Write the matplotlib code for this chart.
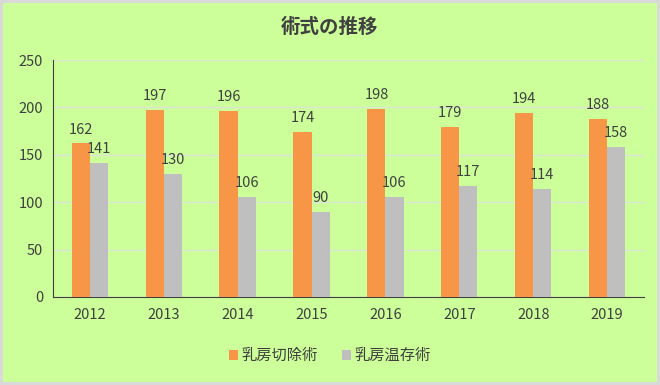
import matplotlib
matplotlib.use("Agg")
import matplotlib.pyplot as plt
import numpy as np

plt.rcParams['font.family'] = ['Noto Sans CJK JP', 'DejaVu Sans']

years = ['2012', '2013', '2014', '2015', '2016', '2017', '2018', '2019']
mastectomy = [162, 197, 196, 174, 198, 179, 194, 188]
conserving = [141, 130, 106, 90, 106, 117, 114, 158]
series_names = ['乳房切除術', '乳房温存術']
title = '術式の推移'

bg = '#CCFF99'
txt = '#404040'
fig = plt.figure(figsize=(6.6, 3.85), dpi=100, facecolor=bg,
                 edgecolor='#D9D9D9', linewidth=3)
ax = fig.add_axes([0.080, 0.2286, 0.896, 0.6154])
ax.set_facecolor(bg)

x = np.arange(len(years))
w = 0.245
b1 = ax.bar(x - w/2, mastectomy, w, color='#F79646', label=series_names[0], zorder=3)
b2 = ax.bar(x + w/2, conserving, w, color='#BFBFBF', label=series_names[1], zorder=3)

for bars, vals in ((b1, mastectomy), (b2, conserving)):
    for r, v in zip(bars, vals):
        ax.annotate(str(v), (r.get_x() + r.get_width()/2, v), xytext=(0, 5),
                    textcoords='offset points', ha='center', va='bottom',
                    fontsize=10.5, color=txt)

ax.set_ylim(0, 250)
ax.set_yticks(range(0, 251, 50))
ax.set_xlim(-0.5, len(years) - 0.5)
ax.set_xticks(x)
ax.set_xticklabels(years)
ax.yaxis.grid(True, color='#DDE3D5', linewidth=1, zorder=0)
ax.tick_params(axis='both', length=0, labelsize=10.5, colors=txt)
ax.tick_params(axis='y', pad=7)
ax.tick_params(axis='x', pad=8)
for s in ('top', 'right'):
    ax.spines[s].set_visible(False)
ax.spines['left'].set_color('#404040')
ax.spines['bottom'].set_color('#404040')

fig.text(0.5, 0.93, title, ha='center', va='center', fontsize=14,
         fontweight='bold', color=txt)

fig.legend(handles=[b1, b2], loc='center', bbox_to_anchor=(0.5, 0.076), ncol=2,
           frameon=False, fontsize=11, labelcolor=txt, handlelength=0.6,
           handleheight=0.6, handletextpad=0.2, columnspacing=1.6)

fig.savefig('out.png', dpi=100, facecolor=bg, edgecolor='#D9D9D9')
